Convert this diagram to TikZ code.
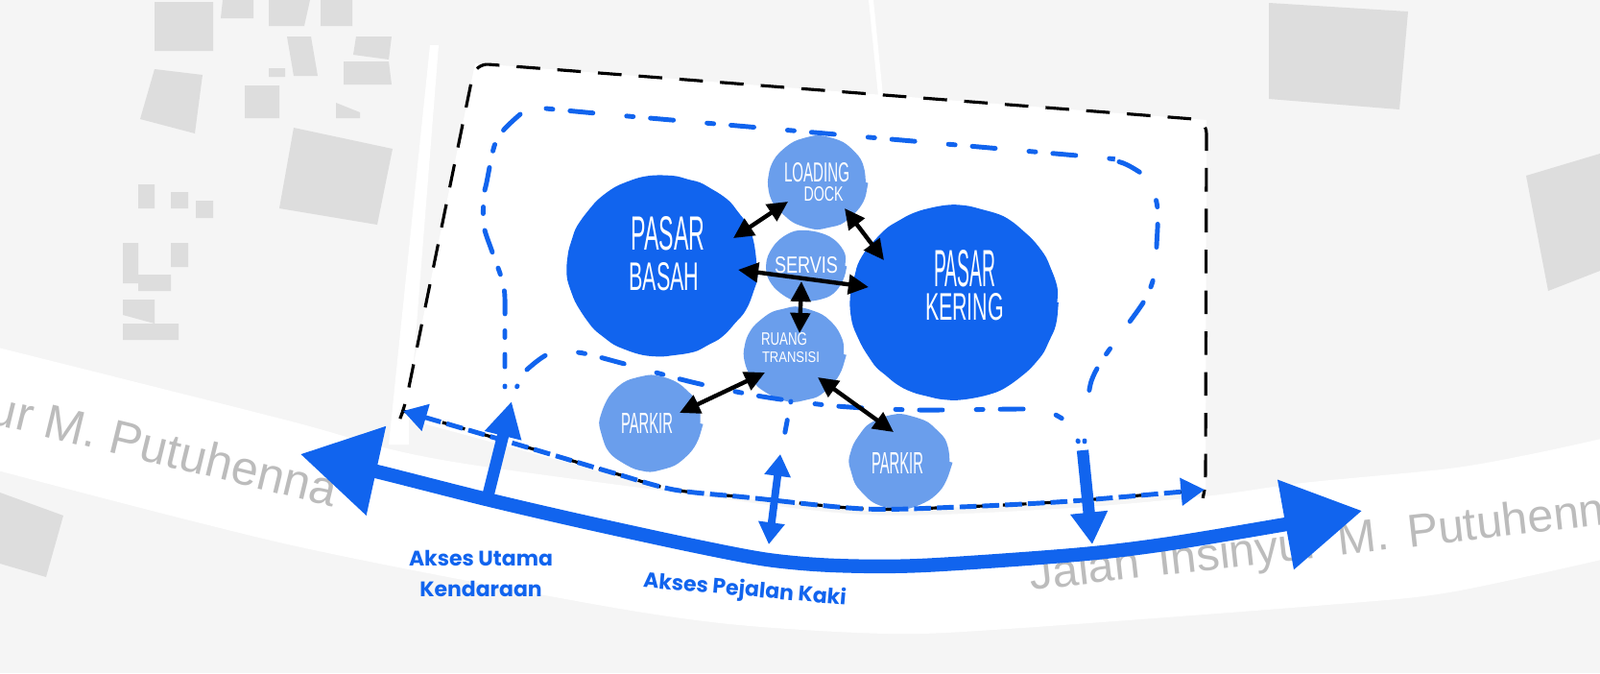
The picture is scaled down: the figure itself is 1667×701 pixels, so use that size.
\documentclass[tikz,border=0pt]{standalone}
\usepackage{fontspec}
\setmainfont{Liberation Sans}
\newfontfamily\aksesfont{Poppins}
\usetikzlibrary{arrows.meta, shapes.geometric, decorations.pathmorphing}
\definecolor{mapblue}{RGB}{17, 100, 238}
\definecolor{maplight}{RGB}{106, 158, 236}
\definecolor{mapbg}{RGB}{245, 245, 245}
\definecolor{mapbld}{RGB}{221, 221, 221}
\definecolor{maptext}{RGB}{188, 188, 188}
\newlength\pxu
\setlength\pxu{0.02cm}
\newcommand{\handtext}[3]{\resizebox{#1\pxu}{#2\pxu}{#3}}

\begin{document}
\begin{tikzpicture}[x=0.02cm, y=-0.02cm,
        blob/.style={ellipse, inner sep=0pt, decorate, decoration={random steps, segment length=7pt, amplitude=0.6pt}, rounded corners=2.5pt},
        bigblob/.style={blob, fill=mapblue},
        smallblob/.style={blob, fill=maplight},
        hand/.style={text=white, inner sep=0pt},
        arr/.style={{Triangle[length=12pt, width=11.5pt]}-{Triangle[length=12pt, width=11.5pt]}, line width=2.5pt, black},
        route/.style={mapblue, line width=2.8pt, line cap=round, dash pattern=on 4pt off 10.2pt on 13.7pt off 20pt},
        routeleft/.style={route, dash pattern=on 13.7pt off 10pt on 4pt off 10pt},
        routeinner/.style={route, dash pattern=on 13.7pt off 20pt on 4pt off 10.2pt},
        sitedash/.style={black, line width=1.8pt, dash pattern=on 14pt off 10.2pt},
        edgedash/.style={mapblue, line width=2.8pt, dash pattern=on 10pt off 3.5pt, {Triangle[length=14pt, width=16pt]}-{Triangle[length=14pt, width=16pt]}},
        mainarr/.style={mapblue, line width=8.2pt, {Triangle[length=46pt, width=52pt]}-{Triangle[length=46pt, width=52pt]}},
        roadtxt/.style={text=maptext, inner sep=0pt},
        aksestxt/.style={text=mapblue, font=\aksesfont\bfseries\fontsize{12.5}{12.5}\selectfont, inner sep=0pt}
      ]
        \useasboundingbox (0,0) rectangle (1667,701);
        \clip (0,0) rectangle (1667,701);
        \fill[mapbg] (0,0) rectangle (1667,701);
        % buildings
        \fill[mapbld] (161,2) -- (222,2) -- (222,53) -- (161,53) -- cycle
          (232,0) -- (264,0) -- (264,19) -- (230,19) -- cycle
          (280,0) -- (323,0) -- (317,27) -- (280,27) -- cycle
          (334,0) -- (367,0) -- (367,27) -- (334,27) -- cycle
          (299,38) -- (324,38) -- (331,79) -- (306,79) -- cycle
          (371,38) -- (408,38) -- (405,62) -- (368,57) -- cycle
          (358,64) -- (405,64) -- (408,88) -- (358,88) -- cycle
          (280,71) -- (297,71) -- (297,80) -- (280,80) -- cycle
          (255,89) -- (291,89) -- (291,123) -- (255,123) -- cycle
          (350,107) -- (375,117) -- (375,123) -- (350,123) -- cycle
          (161,72) -- (211,78) -- (203,139) -- (146,124) -- cycle
          (306,133) -- (409,155) -- (393,234) -- (291,217) -- cycle
          (144,192) -- (161,192) -- (161,217) -- (144,217) -- cycle
          (178,200) -- (196,200) -- (196,217) -- (178,217) -- cycle
          (204,209) -- (222,209) -- (222,227) -- (204,227) -- cycle
          (128,253) -- (144,253) -- (144,286) -- (178,286) -- (178,303) -- (144,303) -- (144,295) -- (128,295) -- cycle
          (178,253) -- (196,253) -- (196,278) -- (178,278) -- cycle
          (128,312) -- (161,312) -- (161,337) -- (128,328) -- cycle
          (128,337) -- (186,337) -- (186,354) -- (128,354) -- cycle
          (1322,3) -- (1467,12) -- (1458,114) -- (1322,103) -- cycle
          (1590,183) -- (1667,160) -- (1667,282) -- (1613,303) -- cycle
          (0,513) -- (66,537) -- (48,601) -- (0,587) -- cycle;
        % road and site
        \fill[white] plot[smooth] coordinates {(-10,360) (300,438) (403,467) (491,484) (683,510) (900,536) (1100,530) (1255,517) (1357,503) (1510,488) (1600,472) (1677,455)}
          -- plot[smooth] coordinates {(1677,581) (1510,617) (1383,630) (1050,655) (925,660) (760,650) (606,627) (300,567) (-10,488)} -- cycle;
        \fill[white] (495,66) -- (1257,125) -- (1256,512) -- (1115,524) -- (900,532) -- (702,512) -- (426,437) -- (422,423) -- cycle;
        \fill[white] (448,47) -- (457,47) -- (426,440) -- (426,463) -- (405,463) -- cycle;
        \fill[white] (905,0) -- (910,0) -- (920,100) -- (915,100) -- cycle;
        \node[roadtxt, font=\fontsize{28.5}{28.5}\selectfont, rotate=-13.7, anchor=base east] (roadw) at (347,528) {ur M. Putuhenna};
        \node[roadtxt, font=\fontsize{27.5}{27.5}\selectfont, rotate=6.5, anchor=base west] (roade) at (1074,615) {\spaceskip=11pt\relax Jalan Insinyur M. Putuhenna};
        % functions
        \node[bigblob, minimum width=197pt*0.569, minimum height=187pt*0.569] (basah) at (690,277) {};
        \node[bigblob, minimum width=215pt*0.569, minimum height=202pt*0.569] (kering) at (994,315) {};
        \node[smallblob, minimum width=100pt*0.569, minimum height=95pt*0.569] (dock) at (852,190) {};
        \node[smallblob, minimum width=81pt*0.569, minimum height=72pt*0.569] (servis) at (840,277) {};
        \node[smallblob, minimum width=102pt*0.569, minimum height=96pt*0.569] (ruang) at (828,369) {};
        \node[smallblob, minimum width=103pt*0.569, minimum height=97pt*0.569] (parkira) at (678,441) {};
        \node[smallblob, minimum width=103pt*0.569, minimum height=96pt*0.569] (parkirb) at (938,481) {};
        \foreach \nm/\x/\y/\w/\h/\txt in {hbasaha/696/243/77/35/PASAR, hbasahb/692/288/73/29/BASAH,
            hkeringa/1005/280/64/38/PASAR, hkeringb/1005/320/82/28/KERING,
            hdocka/851/180/68/20/LOADING, hdockb/858/202/41/15/DOCK,
            hservis/840/276/66/17/SERVIS, hruanga/817/353/48/13/RUANG, hruangb/824/372/60/11/TRANSISI,
            hparkira/674/441/54/21/PARKIR, hparkirb/935/482/54/22/PARKIR}
          \node[hand] (\nm) at (\x,\y) {\handtext{\w}{\h}{\txt}};
        % site boundary and walking routes
        \coordinate (sitew) at (420,428);
        \coordinate (sitee) at (1255,510);
        \draw[sitedash, rounded corners=8pt] (sitew) -- (422,423) -- (495,66) -- (1257,125) -- (1256,505) -- (sitee);
        \draw[sitedash] plot[smooth] coordinates {(sitew) (553,467) (637,492) (702,510) (778,518) (900,530) (1000,528) (1115,522) (sitee)};
        \draw[route] plot[smooth] coordinates {(569,113) (660,121.5) (1122,162) (1155,166) (1175,172) (1197,188) (1206,217) (1205,256) (1203,285) (1193,312) (1166,350) (1147,377) (1137,397) (1133,420) (1132,440)};
        \draw[routeleft] plot[smooth] coordinates {(542,119) (525,135) (515,152) (507,190) (504,205) (504,235) (512,260) (520,282) (524,295) (526,310) (526,352) (526,382)};
        \draw[routeinner] plot[smooth] coordinates {(549,385) (571,369) (602,367) (647,378) (721,398) (794,413) (872,423) (956,427) (1069,426) (1091,428) (1110,438)};
        \draw[route, dash pattern=on 0.5pt off 10.8pt on 7.4pt off 5.7pt on 0.5pt off 20pt] (824,418) -- (816,460);
        \draw[route, dash pattern=on 0.5pt off 20pt] (526,402) -- (526,404) (539,402) -- (538,404) (1123,459) -- (1124,462) (1130,459) -- (1130,462);
        \draw[edgedash] plot[smooth] coordinates {(sitew) (553,467) (637,492) (702,510) (778,518) (900,530) (1000,528) (1115,522) (sitee)};
        % arrows between functions
        \draw[arr] ([shift={(74,-29)}]basah.center) -- ([shift={(-31,20)}]dock.center);
        \draw[arr] ([shift={(28,27)}]dock.center) -- ([shift={(-73,-44)}]kering.center);
        \draw[arr] ([shift={(79,4)}]basah.center) -- ([shift={(-89,-16)}]kering.center);
        \draw[arr] ([shift={(-5,16)}]servis.center) -- ([shift={(5,-22)}]ruang.center);
        \draw[arr] ([shift={(-31,19)}]ruang.center) -- ([shift={(30,-11)}]parkira.center);
        \draw[arr] ([shift={(24,24)}]ruang.center) -- ([shift={(-7,-31)}]parkirb.center);
        % road arrow and accesses
        \coordinate (roadl) at (313,473);
        \coordinate (roadr) at (1419,532);
        \coordinate (utamaa) at (508,518);
        \coordinate (utamab) at (533,418);
        \coordinate (pejalana) at (813,473);
        \coordinate (pejalanb) at (801,567);
        \coordinate (keluara) at (1128,469);
        \coordinate (keluarb) at (1138,567);
        \draw[mainarr] plot[smooth] coordinates {(roadl) (392,491) (507,520) (606,543) (721,568) (800,583) (870,589) (960,589) (1119,578) (1213,567) (1340,546) (roadr)};
        \draw[mapblue, line width=7pt, -{Triangle[length=21pt, width=21pt]}] (utamaa) -- (utamab);
        \draw[mapblue, line width=4.5pt, {Triangle[length=13pt, width=15pt]}-{Triangle[length=13pt, width=15pt]}] (pejalana) -- (pejalanb);
        \draw[mapblue, line width=7pt, -{Triangle[length=19pt, width=21pt]}] (keluara) -- (keluarb);
        \node[aksestxt] (utama) at (501,581) {Akses Utama};
        \node[aksestxt] (kendaraan) at (501,613) {Kendaraan};
        \node[aksestxt, rotate=-5] (pejalan) at (776,615) {Akses Pejalan Kaki};
      \end{tikzpicture}
\end{document}
